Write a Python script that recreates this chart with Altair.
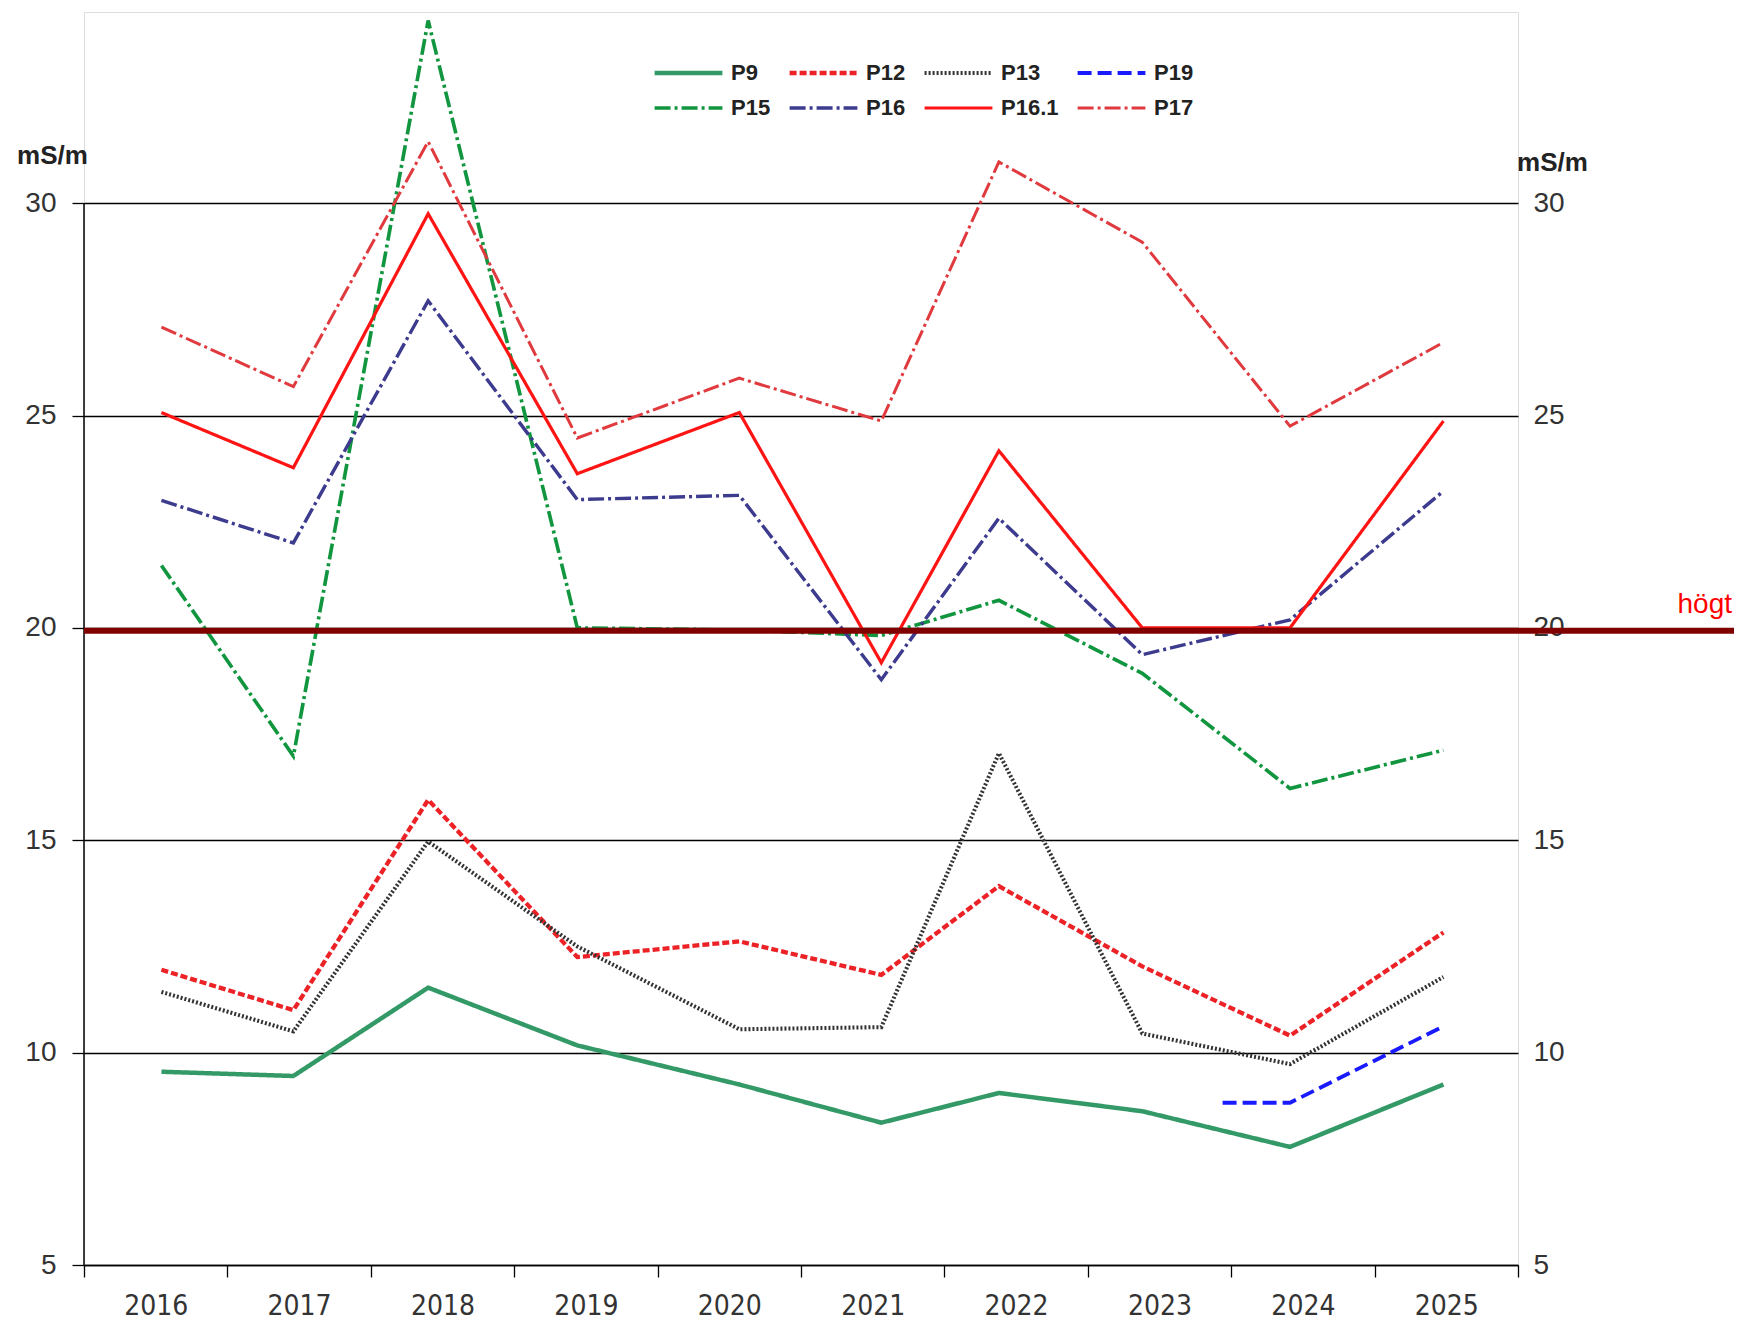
import altair as alt
import pandas as pd

# ---------------- data ----------------
years = [2016, 2017, 2018, 2019, 2020, 2021, 2022, 2023, 2024, 2025]
# sampling positions (decimal years) on the date axis
sample_pos = [2016.04, 2016.96, 2017.90, 2018.94, 2020.07, 2021.06, 2021.88, 2022.88, 2023.91, 2024.98]
p9 = [9.55, 9.45, 11.53, 10.17, 9.25, 8.35, 9.05, 8.62, 7.78, 9.25]
p12 = [11.95, 11.0, 15.95, 12.25, 12.62, 11.83, 13.92, 12.03, 10.4, 12.83]
p13 = [11.43, 10.5, 14.97, 12.5, 10.55, 10.6, 17.05, 10.45, 9.73, 11.78]
p15 = [21.47, 16.98, 34.3, 20.0, 19.95, 19.82, 20.65, 18.93, 16.22, 17.12]
p16 = [23.0, 22.0, 27.7, 23.02, 23.12, 18.78, 22.58, 19.37, 20.19, 23.22]
p16_1 = [25.07, 23.77, 29.75, 23.63, 25.07, 19.18, 24.17, 20.0, 20.0, 24.87]
p17 = [27.08, 25.68, 31.45, 24.47, 25.88, 24.87, 30.97, 29.08, 24.75, 26.72]
p19_pos = [2023.44, 2023.91, 2024.98]
p19 = [8.82, 8.82, 10.62]

series_names = ["P9", "P12", "P13", "P19", "P15", "P16", "P16.1", "P17"]
y_ticks = [5, 10, 15, 20, 25, 30]
x_bounds = [2015.5, 2016.5, 2017.5, 2018.5, 2019.5, 2020.5, 2021.5, 2022.5, 2023.5, 2024.5, 2025.5]
threshold = 19.93
threshold_label = "högt"
unit = "mS/m"

# ---------------- styles ----------------
colors = ["#339966", "#ec2227", "#333333", "#1a1aff", "#11963f", "#3d3b8e", "#ff1414", "#e0393e"]
dashes = [[1, 0], [7, 3], [2, 2], [14, 6], [16, 4, 3, 4], [16, 4, 3, 4], [1, 0], [16, 4, 3, 4]]
widths = [4.5, 3, 2, 3, 2.2, 2.8, 2.5, 2.2]

NARROW = "'Liberation Sans Narrow', 'DejaVu Sans Condensed', 'Liberation Sans', sans-serif"
SANS = "'Liberation Sans', Arial, sans-serif"

series_data = {"P9": p9, "P12": p12, "P13": p13, "P15": p15, "P16": p16, "P16.1": p16_1, "P17": p17}
rows = []
for name, vals in series_data.items():
    for pos, v in zip(sample_pos, vals):
        rows.append({"series": name, "date": pos, "value": v})
for pos, v in zip(p19_pos, p19):
    rows.append({"series": "P19", "date": pos, "value": v})
df = pd.DataFrame(rows)

W, H = 1434, 1253
xs = alt.Scale(domain=[x_bounds[0], x_bounds[-1]], nice=False, zero=False)
ys = alt.Scale(domain=[5, 34.5], nice=False, zero=False)

legend = alt.Legend(
    title=None, orient="none", legendX=568, legendY=49, columns=4, direction="horizontal",
    symbolType="stroke", symbolSize=4600, labelFont=SANS, labelFontSize=22,
    labelFontWeight="bold", labelColor="#222222", labelOffset=6,
    columnPadding=16, rowPadding=11, clipHeight=24,
)

lines = alt.Chart(df).mark_line(clip=False).encode(
    x=alt.X("date:Q", scale=xs, axis=alt.Axis(
        values=years, format="d", ticks=False, tickSize=0, domain=False, grid=False,
        labelFont=NARROW, labelFontSize=28, labelColor="#333333", labelPadding=27, title=None,
        orient="bottom")),
    y=alt.Y("value:Q", scale=ys, axis=alt.Axis(
        values=y_ticks, grid=True, gridColor="black", gridWidth=1.3, gridOpacity=1,
        ticks=True, tickSize=12, tickColor="black", tickWidth=1.3, domain=False,
        labelFont=SANS, labelFontSize=28, labelColor="#333333", labelPadding=16,
        title=unit, titleAngle=0, titleX=-32, titleY=143, titleAlign="center",
        titleBaseline="middle", titleFont=SANS, titleFontSize=26, titleFontWeight="bold",
        titleColor="#222222", orient="left")),
    color=alt.Color("series:N", scale=alt.Scale(domain=series_names, range=colors), legend=legend),
    strokeDash=alt.StrokeDash("series:N", scale=alt.Scale(domain=series_names, range=dashes), legend=legend),
    strokeWidth=alt.StrokeWidth("series:N", scale=alt.Scale(domain=series_names, range=widths), legend=legend),
)

axis_df = pd.DataFrame({"x": [x_bounds[0]], "y": [y_ticks[0]], "y2": [y_ticks[-1]]})
left_rule = alt.Chart(axis_df).mark_rule(color="black", strokeWidth=1.5).encode(
    x=alt.X("x:Q", scale=xs, axis=alt.Axis(
        values=x_bounds, labels=False, ticks=True, tickSize=12, tickColor="black", tickWidth=1.3,
        domain=True, domainColor="black", domainWidth=1.5, grid=False, title=None, orient="bottom")),
    y=alt.Y("y:Q", scale=ys, axis=alt.Axis(
        orient="right", values=y_ticks, ticks=False, domain=False, grid=False,
        labelFont=SANS, labelFontSize=28, labelColor="#333333", labelPadding=15,
        title=unit, titleAngle=0, titleX=34, titleY=150, titleAlign="center",
        titleBaseline="middle", titleFont=SANS, titleFontSize=26, titleFontWeight="bold",
        titleColor="#222222")),
    y2="y2:Q",
)

thr_df = pd.DataFrame({"x": [x_bounds[0]], "y": [threshold], "label": [threshold_label]})
thr = alt.Chart(thr_df).mark_rule(color="#800000", strokeWidth=6, clip=False).encode(
    x=alt.X("x:Q", scale=xs, axis=None),
    x2=alt.value(1650),
    y=alt.Y("y:Q", scale=ys, axis=None),
)
txt = alt.Chart(thr_df).mark_text(
    align="right", baseline="alphabetic", dy=-18, fontSize=28, color="#ff0000", font=SANS
).encode(
    x=alt.value(1648),
    y=alt.Y("y:Q", scale=ys, axis=None),
    text="label:N",
)

chart = alt.layer(left_rule, lines, thr, txt).resolve_axis(
    x="independent", y="independent"
).properties(
    width=W, height=H,
    padding={"left": 76, "top": 4, "right": 216, "bottom": 57},
    autosize=alt.AutoSizeParams(type="none"),
).configure_view(stroke=None).configure(background="white")

chart.save("out.html", embed_options={"renderer": "svg", "actions": False})
